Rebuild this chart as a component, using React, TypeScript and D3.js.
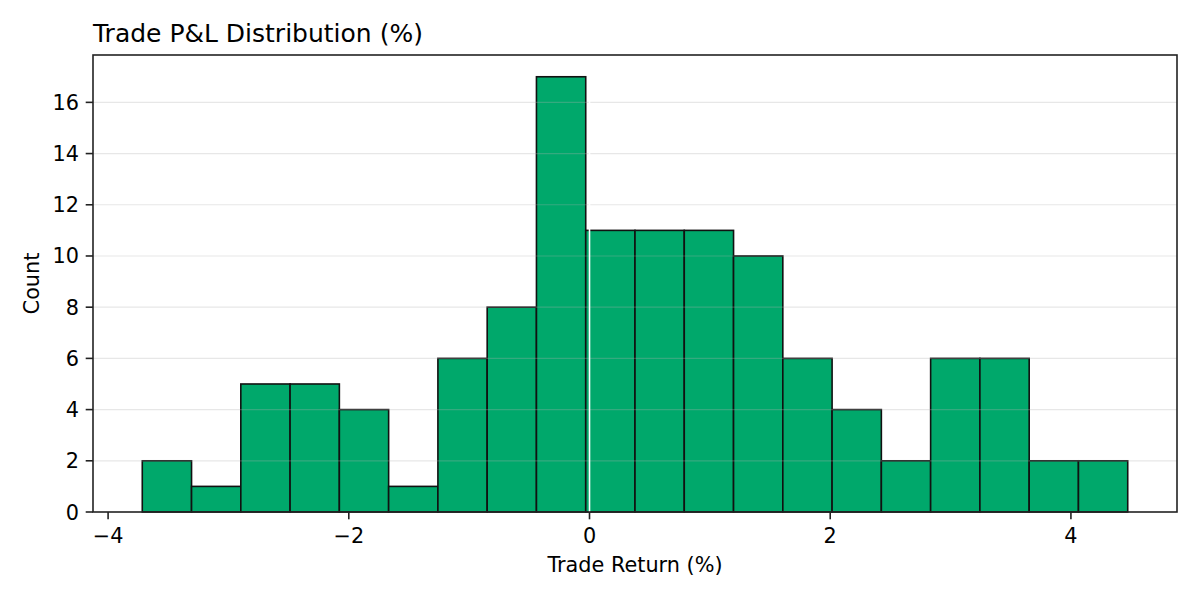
import React from "react";
import * as d3 from "d3";

const binRange: [number, number] = [-3.716, 4.472];
const counts = [2, 1, 5, 5, 4, 1, 6, 8, 17, 11, 11, 11, 10, 6, 4, 2, 6, 6, 2, 2];
const xTicks = [-4, -2, 0, 2, 4];
const yTicks = [0, 2, 4, 6, 8, 10, 12, 14, 16];
const title = "Trade P&L Distribution (%)";
const xLabel = "Trade Return (%)";
const yLabel = "Count";

const W = 1200, H = 600;
const M = { left: 93, right: 1177, top: 55, bottom: 512 };
const FONT = "DejaVu Sans, sans-serif";
const TICK_FS = 20.8;

export default function App() {
  const n = counts.length;
  const bw = (binRange[1] - binRange[0]) / n;
  const bins = counts.map((c, i) => ({ x0: binRange[0] + i * bw, x1: binRange[0] + (i + 1) * bw, c }));
  const pad = (binRange[1] - binRange[0]) * 0.05;
  const x = d3.scaleLinear().domain([binRange[0] - pad, binRange[1] + pad]).range([M.left, M.right]);
  const yMax = (d3.max(counts) as number) * 1.05;
  const y = d3.scaleLinear().domain([0, yMax]).range([M.bottom, M.top]);
  const fmt = (v: number) => (v < 0 ? "\u2212" + Math.abs(v) : String(v));

  return (
    <svg width={W} height={H} style={{ position: "absolute", left: 0, top: 0, background: "#fff" }} fontFamily={FONT}>
      <rect x={0} y={0} width={W} height={H} fill="#fff" />
      {bins.map((b, i) => (
        <rect key={i} x={x(b.x0)} y={y(b.c)} width={x(b.x1) - x(b.x0)} height={y(0) - y(b.c)}
          fill="#00A86B" stroke="#111" strokeWidth={1.6} />
      ))}
      {yTicks.filter(t => t > 0).map(t => (
        <line key={t} x1={M.left} x2={M.right} y1={y(t)} y2={y(t)} stroke="#b0b0b0" strokeOpacity={0.3} strokeWidth={1.2} />
      ))}
      <line x1={x(0)} x2={x(0)} y1={M.top} y2={M.bottom} stroke="#fff" strokeWidth={1.6} />
      <rect x={M.left} y={M.top} width={M.right - M.left} height={M.bottom - M.top} fill="none" stroke="#222" strokeWidth={1.6} />
      {xTicks.map(t => (
        <g key={t}>
          <line x1={x(t)} x2={x(t)} y1={M.bottom} y2={M.bottom + 7.3} stroke="#222" strokeWidth={1.6} />
          <text x={x(t)} y={542.5} textAnchor="middle" fontSize={TICK_FS} fill="#000">{fmt(t)}</text>
        </g>
      ))}
      {yTicks.map(t => (
        <g key={t}>
          <line x1={M.left - 7.3} x2={M.left} y1={y(t)} y2={y(t)} stroke="#222" strokeWidth={1.6} />
          <text x={79} y={y(t) + 7.5} textAnchor="end" fontSize={TICK_FS} fill="#000">{t}</text>
        </g>
      ))}
      <text x={M.left} y={42} fontSize={25} fill="#000">{title}</text>
      <text x={(M.left + M.right) / 2} y={572} textAnchor="middle" fontSize={TICK_FS} fill="#000">{xLabel}</text>
      <text transform={`translate(38.5,${(M.top + M.bottom) / 2}) rotate(-90)`} textAnchor="middle" fontSize={TICK_FS} fill="#000">{yLabel}</text>
    </svg>
  );
}
